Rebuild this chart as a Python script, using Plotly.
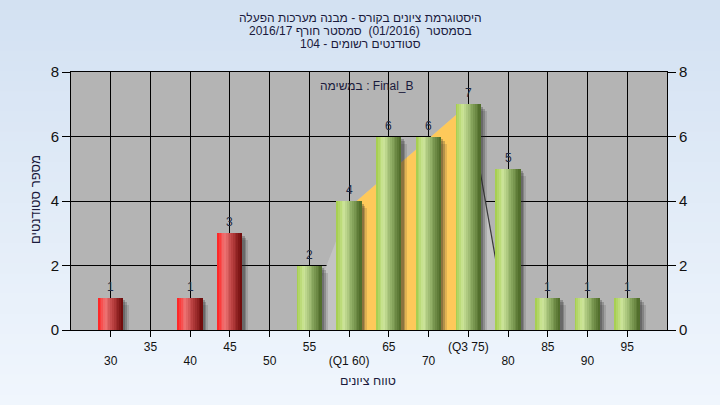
import plotly.graph_objects as go

# ---- data ----
categories = [30, 40, 45, 55, 60, 65, 70, 75, 80, 85, 90, 95]
counts = [1, 1, 3, 2, 4, 6, 6, 7, 5, 1, 1, 1]
passing = [False, False, False, True, True, True, True, True, True, True, True, True]
tick_values = [30, 35, 40, 45, 50, 55, 60, 65, 70, 75, 80, 85, 90, 95]
tick_labels = ["30", "35", "40", "45", "50", "55", "(Q1 60)", "65", "70", "(Q3 75)", "80", "85", "90", "95"]
y_ticks = [0, 2, 4, 6, 8]
# overlay (distribution polygon and inter-quartile band)
dist_x = [54, 60, 75, 80]
dist_y = [0, 3.8, 7, 0]
iqr_x = [60, 60, 75, 75]
iqr_y = [0, 3.8, 7, 0]

title_lines = [
    "היסטוגרמת ציונים בקורס - מבנה מערכות הפעלה",
    "בסמסטר  (01/2016)  סמסטר חורף 2016/17",
    "סטודנטים רשומים - 104",
]
task_label = "במשימה : Final_B"
x_title = "טווח ציונים"
y_title = "מספר סטודנטים"

FONT = "Liberation Sans, Arial, DejaVu Sans, sans-serif"

# plot geometry helpers (pixels -> paper)
L, R, T, B = 71, 53, 72, 75
PW, PH = 720 - L - R, 405 - T - B


def py(p):
    return (405 - B - p) / PH


def px(p):
    return (p - L) / PW


def hex2rgb(h):
    h = h.lstrip("#")
    return tuple(int(h[i:i + 2], 16) for i in (0, 2, 4))


def grad(stops, t):
    for (t0, c0), (t1, c1) in zip(stops, stops[1:]):
        if t0 <= t <= t1:
            f = (t - t0) / (t1 - t0) if t1 > t0 else 0
            a, b = hex2rgb(c0), hex2rgb(c1)
            return "rgb(%d,%d,%d)" % tuple(round(a[i] + (b[i] - a[i]) * f) for i in range(3))
    return stops[-1][1]


def path_of(xs, ys, close=True):
    s = "M " + " L ".join("%g,%g" % (x, y) for x, y in zip(xs, ys))
    return s + (" Z" if close else "")


red_stops = [(0, "#ff1e1e"), (0.3, "#f07474"), (0.65, "#b23a3a"), (1, "#6a0808")]
green_stops = [(0, "#a2cc48"), (0.3, "#cee69c"), (0.65, "#8aa860"), (1, "#4c6826")]

fig = go.Figure()

BW = 3.1
# shadows
for off, dy, col in [(0.75, 0.22, "rgba(40,40,40,0.14)"), (0.5, 0.14, "rgba(40,40,40,0.24)"),
                     (0.3, 0.08, "rgba(40,40,40,0.28)")]:
    fig.add_trace(go.Bar(x=categories, y=[c - dy for c in counts], width=BW, offset=-BW / 2 + off,
                         marker=dict(color=col, line=dict(width=0)), hoverinfo="skip", showlegend=False))

# cylinder-shaded bars from vertical slices
N = 14
sw = BW / N
for i in range(N):
    t = (i + 0.5) / N
    cols = [grad(green_stops, t) if p else grad(red_stops, t) for p in passing]
    fig.add_trace(go.Bar(x=categories, y=counts, width=sw * 1.08, offset=-BW / 2 + i * sw,
                         marker=dict(color=cols, line=dict(width=0)),
                         hoverinfo="skip" if i else "x+y", showlegend=False))

# right / secondary axis anchor traces
fig.add_trace(go.Scatter(x=[categories[0]], y=[0], yaxis="y2", mode="markers",
                         marker=dict(opacity=0), hoverinfo="skip", showlegend=False))
fig.add_trace(go.Scatter(x=[categories[0]], y=[0], xaxis="x2", mode="markers",
                         marker=dict(opacity=0), hoverinfo="skip", showlegend=False))

# background gradient bands + plot bg
shapes = []
NB = 40
top, bot = hex2rgb("#d3e1f2"), hex2rgb("#f0f6fd")
for k in range(NB):
    p0 = k * 405 / NB
    p1 = (k + 1) * 405 / NB + 1
    f = k / (NB - 1)
    c = "rgb(%d,%d,%d)" % tuple(round(top[i] + (bot[i] - top[i]) * f) for i in range(3))
    shapes.append(dict(type="rect", xref="paper", yref="paper", x0=-0.5, x1=1.5,
                       y0=py(p1), y1=py(p0), fillcolor=c, line=dict(width=0), layer="below"))
shapes.append(dict(type="rect", xref="paper", yref="paper", x0=0, x1=1, y0=0, y1=1,
                   fillcolor="#b4b4b4", line=dict(width=0), layer="below"))
# distribution overlay, above gridlines but below the bars
shapes.append(dict(type="path", xref="x", yref="y", path=path_of(dist_x, dist_y),
                   fillcolor="#c3c3c3", line=dict(width=0), layer="between"))
shapes.append(dict(type="path", xref="x", yref="y", path=path_of(iqr_x, iqr_y),
                   fillcolor="#fec95a", line=dict(width=0), layer="between"))
shapes.append(dict(type="path", xref="x", yref="y", path=path_of(dist_x[2:], dist_y[2:], close=False),
                   line=dict(color="#3a3a3a", width=1.2), layer="between"))

annotations = []
for j, line in enumerate(title_lines):
    annotations.append(dict(text=line, x=px(360), y=py(18 + 13 * j), xref="paper", yref="paper",
                            showarrow=False, xanchor="center", yanchor="middle",
                            font=dict(family=FONT, size=12, color="#1a1a3c")))
annotations.append(dict(text=task_label, x=px(367), y=py(86), xref="paper", yref="paper",
                        showarrow=False, xanchor="center", yanchor="middle",
                        font=dict(family=FONT, size=12, color="#1a1a3c")))
annotations.append(dict(text=x_title, x=px(368), y=py(381), xref="paper", yref="paper",
                        showarrow=False, xanchor="center", yanchor="middle",
                        font=dict(family=FONT, size=12.5, color="#1a1a3c")))
annotations.append(dict(text=y_title, x=px(35), y=py(200), xref="paper", yref="paper",
                        showarrow=False, xanchor="center", yanchor="middle", textangle=-90,
                        font=dict(family=FONT, size=13, color="#1a1a3c")))
# value labels above bars
for c, v in zip(categories, counts):
    annotations.append(dict(text=str(v), x=c, y=v, xref="x", yref="y", showarrow=False,
                            xanchor="center", yanchor="bottom", yshift=2,
                            font=dict(family=FONT, size=12, color="#1e2a44")))

odd_text = [lab if v % 10 == 5 else "" for v, lab in zip(tick_values, tick_labels)]
even_vals = [v for v in tick_values if v % 10 == 0]
even_text = [lab for v, lab in zip(tick_values, tick_labels) if v % 10 == 0]

axis_font = dict(family=FONT, size=12, color="#111111")
fig.update_layout(
    width=720, height=405,
    margin=dict(l=L, r=R, t=T, b=B),
    paper_bgcolor="#e2ecf8",
    plot_bgcolor="rgba(0,0,0,0)",
    barmode="overlay",
    bargap=0,
    shapes=shapes,
    annotations=annotations,
    xaxis=dict(range=[25, 100], tickmode="array", tickvals=tick_values, ticktext=odd_text,
               showgrid=True, gridcolor="#000000", gridwidth=1, zeroline=False,
               showline=True, linecolor="#000000", linewidth=1, mirror=True,
               ticks="outside", ticklen=6, tickcolor="#000000", tickfont=axis_font),
    xaxis2=dict(range=[25, 100], overlaying="x", side="bottom", anchor="y", matches="x",
                tickmode="array", tickvals=even_vals, ticktext=even_text,
                showgrid=False, zeroline=False, showline=False, ticks="",
                ticklabelstandoff=22, tickfont=axis_font),
    yaxis=dict(range=[0, 8], tickmode="array", tickvals=y_ticks,
               showgrid=True, gridcolor="#000000", gridwidth=1, zeroline=False,
               showline=True, linecolor="#000000", linewidth=1,
               ticks="outside", ticklen=8, tickcolor="#000000",
               tickfont=dict(family=FONT, size=15, color="#111111")),
    yaxis2=dict(range=[0, 8], overlaying="y", side="right", anchor="x", matches="y",
                tickmode="array", tickvals=y_ticks, showgrid=False, zeroline=False,
                showline=True, linecolor="#000000", linewidth=1,
                ticks="outside", ticklen=8, tickcolor="#000000",
                tickfont=dict(family=FONT, size=15, color="#111111")),
)

fig.write_html("out.html", config={"displayModeBar": False},
               post_script="document.body.style.margin='0';document.body.style.overflow='hidden';")
